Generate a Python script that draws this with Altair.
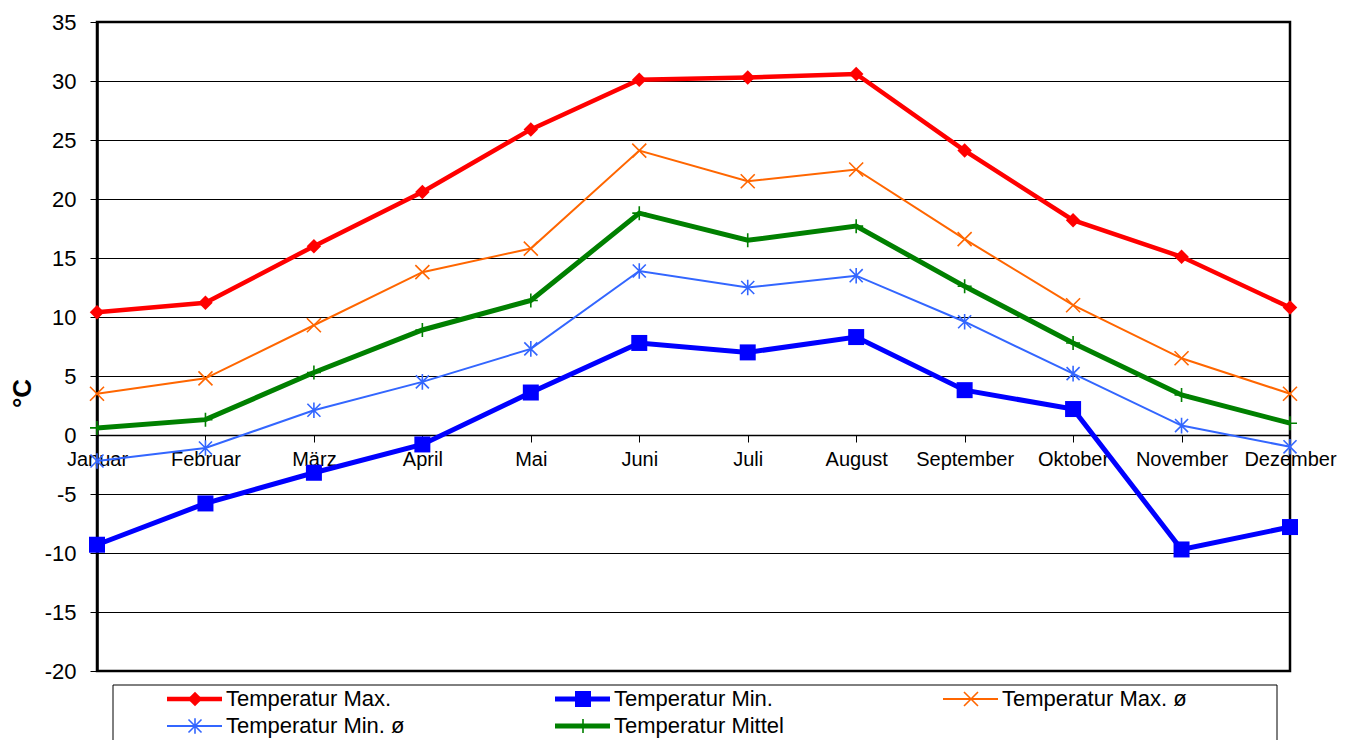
import altair as alt
import pandas as pd

months = ["Januar", "Februar", "März", "April", "Mai", "Juni", "Juli",
          "August", "September", "Oktober", "November", "Dezember"]

series_names = ["Temperatur Max.", "Temperatur Min.", "Temperatur Max. ø",
                "Temperatur Min. ø", "Temperatur Mittel"]

temp_max = [10.4, 11.2, 16.0, 20.6, 25.9, 30.1, 30.3, 30.6, 24.1, 18.2, 15.1, 10.8]
temp_min = [-9.3, -5.8, -3.2, -0.8, 3.6, 7.8, 7.0, 8.3, 3.8, 2.2, -9.7, -7.8]
temp_max_avg = [3.5, 4.8, 9.3, 13.8, 15.8, 24.1, 21.5, 22.5, 16.6, 11.0, 6.5, 3.5]
temp_min_avg = [-2.2, -1.1, 2.1, 4.5, 7.3, 13.9, 12.5, 13.5, 9.6, 5.2, 0.8, -1.0]
temp_mittel = [0.6, 1.3, 5.3, 8.9, 11.4, 18.8, 16.5, 17.7, 12.6, 7.8, 3.4, 1.0]

series_values = [temp_max, temp_min, temp_max_avg, temp_min_avg, temp_mittel]

# styles
colors = ["#FF0000", "#0000FF", "#FF6600", "#3366FF", "#008000"]
line_widths = [4.5, 5, 2, 2, 5]
X_PATH = "M-1,-1L1,1M-1,1L1,-1"
STAR_PATH = "M-1,-1L1,1M-1,1L1,-1M0,-1.2L0,1.2"
PLUS_PATH = "M-1,0L1,0M0,-1L0,1"
shapes = ["diamond", "square", X_PATH, STAR_PATH, PLUS_PATH]
sizes = [210, 256, 196, 170, 196]
filled = [True, True, False, False, False]

FONT = "Liberation Sans"
W, H = 1193, 649
Y_MIN, Y_MAX = -20, 35
zero_offset = -round(H * (0 - Y_MIN) / (Y_MAX - Y_MIN))

rows = []
for s, vals in zip(series_names, series_values):
    for m, v in zip(months, vals):
        rows.append({"month": m, "series": s, "value": v})
df = pd.DataFrame(rows)

x_enc = alt.X(
    "month:N", sort=months,
    scale=alt.Scale(type="point", padding=0),
    axis=alt.Axis(title=None, offset=zero_offset, labelAngle=0, labelFontSize=20,
                  labelFont=FONT, labelColor="black", labelPadding=7, tickSize=7,
                  tickColor="black", domainColor="black", domainWidth=1.5,
                  grid=False, labelOverlap=False),
)
y_enc = alt.Y(
    "value:Q",
    scale=alt.Scale(domain=[Y_MIN, Y_MAX], nice=False, zero=False),
    axis=alt.Axis(values=list(range(Y_MIN, Y_MAX + 1, 5)), title="°C",
                  labelExpr="'' + datum.value",
                  titleFont=FONT, titleFontSize=26, titleFontWeight="bold",
                  titleColor="black", titleX=-75, titleY=371, titleAngle=-90,
                  titleAlign="center", titleBaseline="middle",
                  labelFontSize=22, labelFont=FONT, labelColor="black",
                  labelPadding=14, tickSize=7, tickColor="black",
                  domainColor="black", domainWidth=2.5, grid=True,
                  gridColor="black", gridWidth=1, gridOpacity=1),
)

layers = []

# legend box
box = alt.Chart(pd.DataFrame({"k": [0]})).mark_rect(
    fill="white", stroke="black", strokeWidth=1
).encode(x=alt.value(16), x2=alt.value(1180), y=alt.value(663), y2=alt.value(760))
layers.append(box)

for i, name in enumerate(series_names):
    sub = df[df["series"] == name]
    base = alt.Chart(sub)
    line = base.mark_line(color=colors[i], strokeWidth=line_widths[i]).encode(
        x=x_enc, y=y_enc)
    pts = base.mark_point(
        shape=shapes[i], size=sizes[i], filled=filled[i], color=colors[i],
        opacity=1, strokeWidth=1.6 if not filled[i] else 1
    ).encode(x=x_enc, y=y_enc)
    layers += [line, pts]

    col, row = i % 3, i // 3
    cx = 98 + col * 388
    ly = 677 + row * 27
    leg = pd.DataFrame({"series": [name], "cx": [cx], "x1": [cx - 28], "x2": [cx + 27],
                        "tx": [cx + 31], "ly": [ly]})
    lb = alt.Chart(leg)
    lrule = lb.mark_rule(color=colors[i], strokeWidth=line_widths[i]).encode(
        x=alt.X("x1:Q", scale=None), x2="x2:Q", y=alt.Y("ly:Q", scale=None))
    lpt = lb.mark_point(
        shape=shapes[i], size=sizes[i], filled=filled[i], color=colors[i],
        opacity=1, strokeWidth=1.6 if not filled[i] else 1
    ).encode(x=alt.X("cx:Q", scale=None), y=alt.Y("ly:Q", scale=None))
    ltxt = lb.mark_text(align="left", baseline="middle", font=FONT, fontSize=22,
                        color="black").encode(
        x=alt.X("tx:Q", scale=None), y=alt.Y("ly:Q", scale=None), text="series:N")
    layers += [lrule, lpt, ltxt]

chart = alt.layer(*layers).properties(
    width=W, height=H,
    autosize=alt.AutoSizeParams(type="none"),
    padding={"left": 89, "top": 14, "right": 50, "bottom": 69},
).configure(
    background="white",
    view=alt.ViewConfig(stroke="black", strokeWidth=2.5),
)

chart.save("out.html", embed_options={"renderer": "svg", "actions": False})
